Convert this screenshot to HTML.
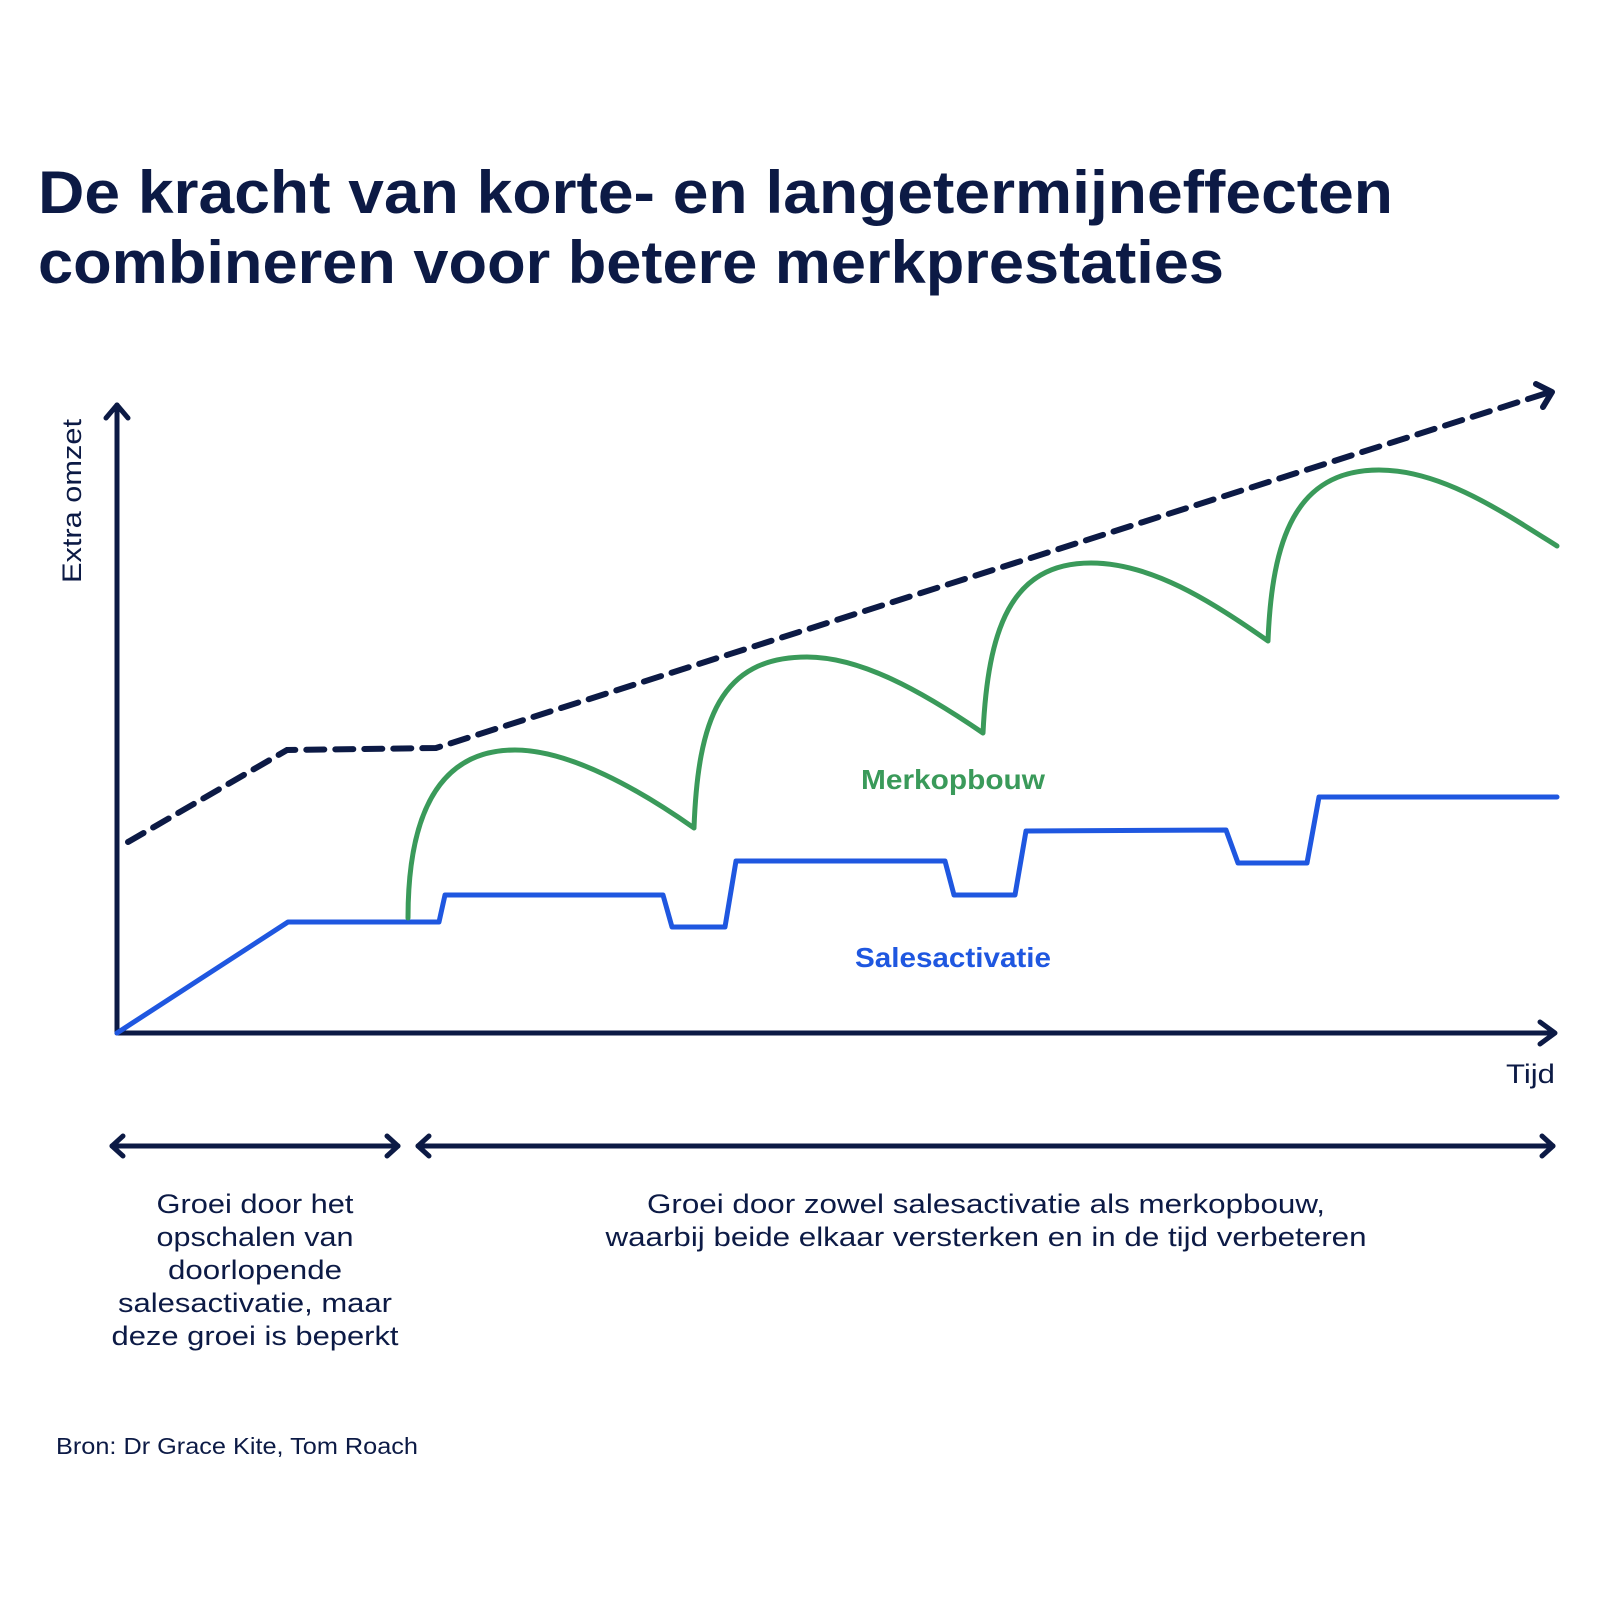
<!DOCTYPE html>
<html><head><meta charset="utf-8"><style>
html,body{margin:0;padding:0;background:#fff;}
svg{display:block;}
text{font-family:"Liberation Sans",sans-serif;}
</style></head><body>
<svg width="1600" height="1600" viewBox="0 0 1600 1600" xmlns="http://www.w3.org/2000/svg">
<rect width="1600" height="1600" fill="#fff"/>
<g fill="#0c1a45" font-weight="bold" font-size="60">
<text x="38" y="213" textLength="1355" lengthAdjust="spacingAndGlyphs">De kracht van korte- en langetermijneffecten</text>
<text x="38" y="283" textLength="1186" lengthAdjust="spacingAndGlyphs">combineren voor betere merkprestaties</text>
</g>
<g stroke="#0c1a45" stroke-width="5" fill="none" stroke-linecap="round" stroke-linejoin="round">
<line x1="117" y1="1033" x2="117" y2="405"/>
<polyline points="106,418 117,405 128,418"/>
<line x1="117" y1="1033" x2="1553" y2="1033"/>
<polyline points="1540,1022 1555,1033 1540,1044"/>
<line x1="112" y1="1146" x2="398" y2="1146"/>
<polyline points="123,1136 112,1146 123,1156"/>
<polyline points="387,1136 398,1146 387,1156"/>
<line x1="418" y1="1146" x2="1553" y2="1146"/>
<polyline points="429,1136 418,1146 429,1156"/>
<polyline points="1542,1136 1553,1146 1542,1156"/>
</g>
<polyline points="128,842 287,750 436,748 1550,392" fill="none" stroke="#0c1a45" stroke-width="6" stroke-dasharray="18,11" stroke-linecap="round"/>
<polyline points="1536,384 1552,392 1543,407" fill="none" stroke="#0c1a45" stroke-width="6" stroke-linecap="round" stroke-linejoin="round"/>
<polyline points="117,1033 288,922 439,922 445,895 663,895 672,927 725,927 736,861 945,861 954,895 1015,895 1026,831 1226,830 1238,863 1307,863 1319,797 1557,797" fill="none" stroke="#1f57e0" stroke-width="5" stroke-linejoin="round" stroke-linecap="round"/>
<path d="M408,918 C408,830 430,750 515,750 C570,750 640,790 694,828 C698,720 720,657 807,657 C860,657 920,690 983,733 C988,630 1010,563 1091,563 C1150,563 1210,600 1268,641 C1272,540 1295,470 1379,470 C1440,470 1500,510 1557,546" fill="none" stroke="#3a9a5a" stroke-width="5" stroke-linecap="round" stroke-linejoin="round"/>
<text x="953" y="789" text-anchor="middle" fill="#3a9a5a" font-weight="bold" font-size="28" textLength="184" lengthAdjust="spacingAndGlyphs">Merkopbouw</text>
<text x="953" y="967" text-anchor="middle" fill="#1f57e0" font-weight="bold" font-size="28" textLength="196" lengthAdjust="spacingAndGlyphs">Salesactivatie</text>
<text x="1555" y="1083" text-anchor="end" fill="#0c1a45" font-size="27" textLength="49" lengthAdjust="spacingAndGlyphs">Tijd</text>
<text transform="translate(81,501) rotate(-90)" text-anchor="middle" fill="#0c1a45" font-size="27" textLength="164" lengthAdjust="spacingAndGlyphs">Extra omzet</text>
<g fill="#0c1a45" font-size="27" text-anchor="middle">
<text x="255" y="1213" textLength="197" lengthAdjust="spacingAndGlyphs">Groei door het</text>
<text x="255" y="1246" textLength="197" lengthAdjust="spacingAndGlyphs">opschalen van</text>
<text x="255" y="1279" textLength="174" lengthAdjust="spacingAndGlyphs">doorlopende</text>
<text x="255" y="1312" textLength="274" lengthAdjust="spacingAndGlyphs">salesactivatie, maar</text>
<text x="255" y="1345" textLength="287" lengthAdjust="spacingAndGlyphs">deze groei is beperkt</text>
<text x="986" y="1213" textLength="678" lengthAdjust="spacingAndGlyphs">Groei door zowel salesactivatie als merkopbouw,</text>
<text x="986" y="1246" textLength="761" lengthAdjust="spacingAndGlyphs">waarbij beide elkaar versterken en in de tijd verbeteren</text>
</g>
<text x="56" y="1454" fill="#0c1a45" font-size="23" textLength="362" lengthAdjust="spacingAndGlyphs">Bron: Dr Grace Kite, Tom Roach</text>
</svg>
</body></html>
